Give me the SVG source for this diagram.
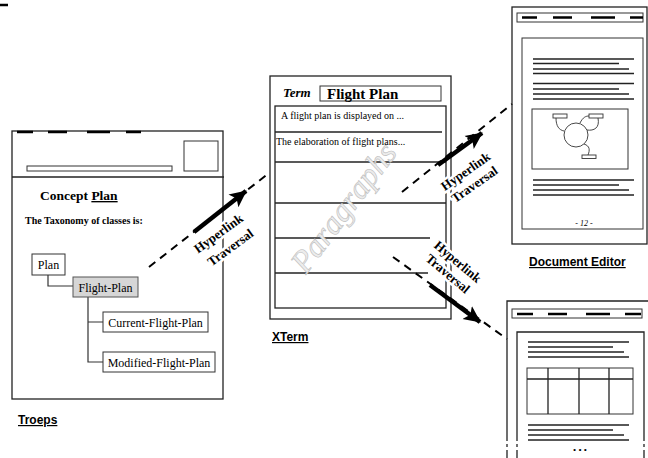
<svg xmlns="http://www.w3.org/2000/svg" width="648" height="458" viewBox="0 0 648 458">
<style>
.win{fill:#fff;stroke:#222;stroke-width:1.3}
.ln{stroke:#222;stroke-width:1.3;fill:none}
.thin{stroke:#333;stroke-width:1.2;fill:none}
.dash{stroke:#000;stroke-width:2.5}
.box{fill:#fff;stroke:#333;stroke-width:1}
.serif{font-family:"Liberation Serif","Times New Roman",serif;fill:#000}
.sans{font-family:"Liberation Sans",Arial,sans-serif;fill:#000;font-weight:bold;font-size:12px;text-decoration:underline}
.tx{font-size:12px}
.wm{font-family:"Liberation Serif","Times New Roman",serif;font-size:32px;font-style:italic;text-anchor:middle;fill:#ececec;stroke:#bdbdbd;stroke-width:0.6}
.link{stroke:#000;stroke-width:2;stroke-dasharray:8 6;fill:none}
.shaft{stroke:#000;stroke-width:4.5;fill:none}
.lbl{font-family:"Liberation Serif","Times New Roman",serif;font-weight:bold;font-size:13px;text-anchor:middle;fill:#000;stroke:#fff;stroke-width:5;paint-order:stroke;stroke-linejoin:round}
</style>
<defs>
<marker id="ah" markerUnits="userSpaceOnUse" markerWidth="20" markerHeight="20" viewBox="0 0 20 20" refX="16" refY="10" orient="auto">
<path d="M0,2 L17,10 L0,18 L4,10 Z" fill="#000"/>
</marker>
</defs>
<line x1="0" y1="5" x2="8" y2="5" class="dash"/>

<g id="troeps">
<rect x="12" y="131" width="211" height="268" class="win"/>
<line x1="12" y1="177" x2="224" y2="177" class="ln"/>
<line x1="17" y1="132" x2="33" y2="132" class="dash"/>
<line x1="48" y1="132" x2="67" y2="132" class="dash"/>
<line x1="87" y1="132" x2="110" y2="132" class="dash"/>
<line x1="126" y1="132" x2="141" y2="132" class="dash"/>
<rect x="27" y="166" width="145" height="5" class="box" stroke-width="1.2"/>
<rect x="184" y="141" width="34" height="30" class="box" stroke-width="1.2"/>
<text x="40" y="200" class="serif" font-size="13.5" font-weight="bold">Concept <tspan text-decoration="underline">Plan</tspan></text>
<text x="25" y="224" class="serif" font-size="10" font-weight="bold">The Taxonomy of classes is:</text>
<path d="M48,275 V286 H73 M88,297 V362 H103 M88,322 H103" class="thin"/>
<rect x="32" y="254" width="33" height="21" class="box"/>
<text x="48.5" y="268.5" class="serif tx" text-anchor="middle">Plan</text>
<rect x="73" y="277" width="65" height="20" fill="#d6d6d6" stroke="#555" stroke-width="1"/>
<text x="105.5" y="291.5" class="serif tx" text-anchor="middle">Flight-Plan</text>
<rect x="103" y="312" width="105" height="20" class="box"/>
<text x="155.5" y="326.5" class="serif tx" text-anchor="middle">Current-Flight-Plan</text>
<rect x="103" y="352" width="112" height="20" class="box"/>
<text x="159" y="366.5" class="serif tx" text-anchor="middle">Modified-Flight-Plan</text>
<text x="18" y="424" class="sans">Troeps</text>
</g>

<g id="xterm">
<rect x="270" y="76" width="181" height="243" class="win"/>
<rect x="275" y="106" width="171" height="202" class="win"/>
<text x="283" y="97" class="serif" font-size="13" font-weight="bold" font-style="italic">Term</text>
<rect x="320" y="86" width="121" height="15" class="box" stroke-width="1.3"/>
<text x="327" y="99" class="serif" font-size="15" font-weight="bold">Flight Plan</text>
<line x1="275" y1="132" x2="442" y2="132" class="ln"/>
<line x1="275" y1="162" x2="446" y2="162" class="ln"/>
<line x1="275" y1="203" x2="446" y2="203" class="ln"/>
<line x1="275" y1="238" x2="430" y2="238" class="ln"/>
<line x1="275" y1="273" x2="428" y2="273" class="ln"/>
<text x="281" y="119" class="serif" font-size="10">A flight plan is displayed on ...</text>
<text x="276" y="145" class="serif" font-size="10">The elaboration of flight plans...</text>
<text transform="translate(352,214) rotate(-53)" class="wm">Paragraphs</text>
<text x="272" y="341" class="sans">XTerm</text>
</g>

<g id="document-editor">
<rect x="512" y="7" width="135" height="237" class="win"/>
<rect x="517" y="13" width="126" height="9" class="box" stroke-width="1.2"/>
<line x1="522" y1="17.5" x2="537" y2="17.5" class="dash"/>
<line x1="553" y1="17.5" x2="572" y2="17.5" class="dash"/>
<line x1="591" y1="17.5" x2="615" y2="17.5" class="dash"/>
<line x1="630" y1="17.5" x2="643" y2="17.5" class="dash"/>
<rect x="522" y="38" width="121" height="191" class="box" stroke-width="1.3"/>
<path d="M533,59H634M533,63.5H619M533,69H629M533,73.5H634M533,83.5H634M533,89H619M533,94H629M533,99H634M533,180H634M533,185H619M533,190H629M533,195H634" class="ln" stroke-width="1.4"/>
<rect x="532" y="109" width="96" height="60" class="box" stroke-width="1.3"/>
<circle cx="576" cy="135" r="12" fill="none" stroke="#333" stroke-width="0.9"/>
<g fill="#fff" stroke="#333" stroke-width="0.9">
<rect x="553" y="114" width="14" height="4"/>
<rect x="589" y="114" width="14" height="4"/>
<rect x="582" y="155" width="14" height="3.5"/>
</g>
<path d="M556,118 C556,126 559,130 564,131 M580,123 C583,117 586,116 589,116 M598,118 C600,128 594,131 587,130 M584,144 C590,146 590,150 588,155" fill="none" stroke="#333" stroke-width="0.9"/>
<text x="584" y="226" class="serif" font-size="8" font-style="italic" text-anchor="middle">- 12 -</text>
<text x="529" y="266" class="sans">Document Editor</text>
</g>

<g id="page-view">
<path d="M507,441 V301 H648 M517,441 V332 H644 V441" class="ln"/>
<path d="M507,444V447M507,450V458M517,444V447M517,450V458M644,444V447M644,450V458" class="ln"/>
<rect x="512" y="309" width="130" height="9" class="box" stroke-width="1.2"/>
<line x1="517" y1="314" x2="533" y2="314" class="dash"/>
<line x1="548" y1="314" x2="567" y2="314" class="dash"/>
<line x1="586" y1="314" x2="610" y2="314" class="dash"/>
<line x1="625" y1="314" x2="641" y2="314" class="dash"/>
<path d="M528,342H629M528,347H613M528,352H624M528,357H629M528,425H629M528,430H613M528,435H624M528,440H629" class="ln" stroke-width="1.4"/>
<rect x="527" y="368" width="106" height="46" class="box" stroke-width="1.3"/>
<path d="M527,379H633M548,368V414M579,368V414M609,368V414" class="ln"/>
<text x="580" y="453" class="serif" font-size="9" text-anchor="middle">• • •</text>
</g>

<g id="connectors">
<line x1="149" y1="267" x2="269" y2="173" class="link"/>
<line x1="194" y1="232" x2="246" y2="191" class="shaft" marker-end="url(#ah)"/>
<text transform="translate(221,237) rotate(-36)" class="lbl">Hyperlink</text>
<text transform="translate(233,251) rotate(-36)" class="lbl">Traversal</text>

<line x1="402" y1="192" x2="512" y2="104" class="link"/>
<line x1="438" y1="165" x2="482" y2="133" class="shaft" marker-end="url(#ah)"/>
<text transform="translate(468,175) rotate(-35)" class="lbl">Hyperlink</text>
<text transform="translate(477,188) rotate(-35)" class="lbl">Traversal</text>

<line x1="393" y1="257" x2="507" y2="339" class="link"/>
<line x1="430" y1="285" x2="480" y2="322" class="shaft" marker-end="url(#ah)"/>
<text transform="translate(455,265) rotate(40)" class="lbl">Hyperlink</text>
<text transform="translate(445,277) rotate(40)" class="lbl">Traversal</text>
</g>
</svg>
